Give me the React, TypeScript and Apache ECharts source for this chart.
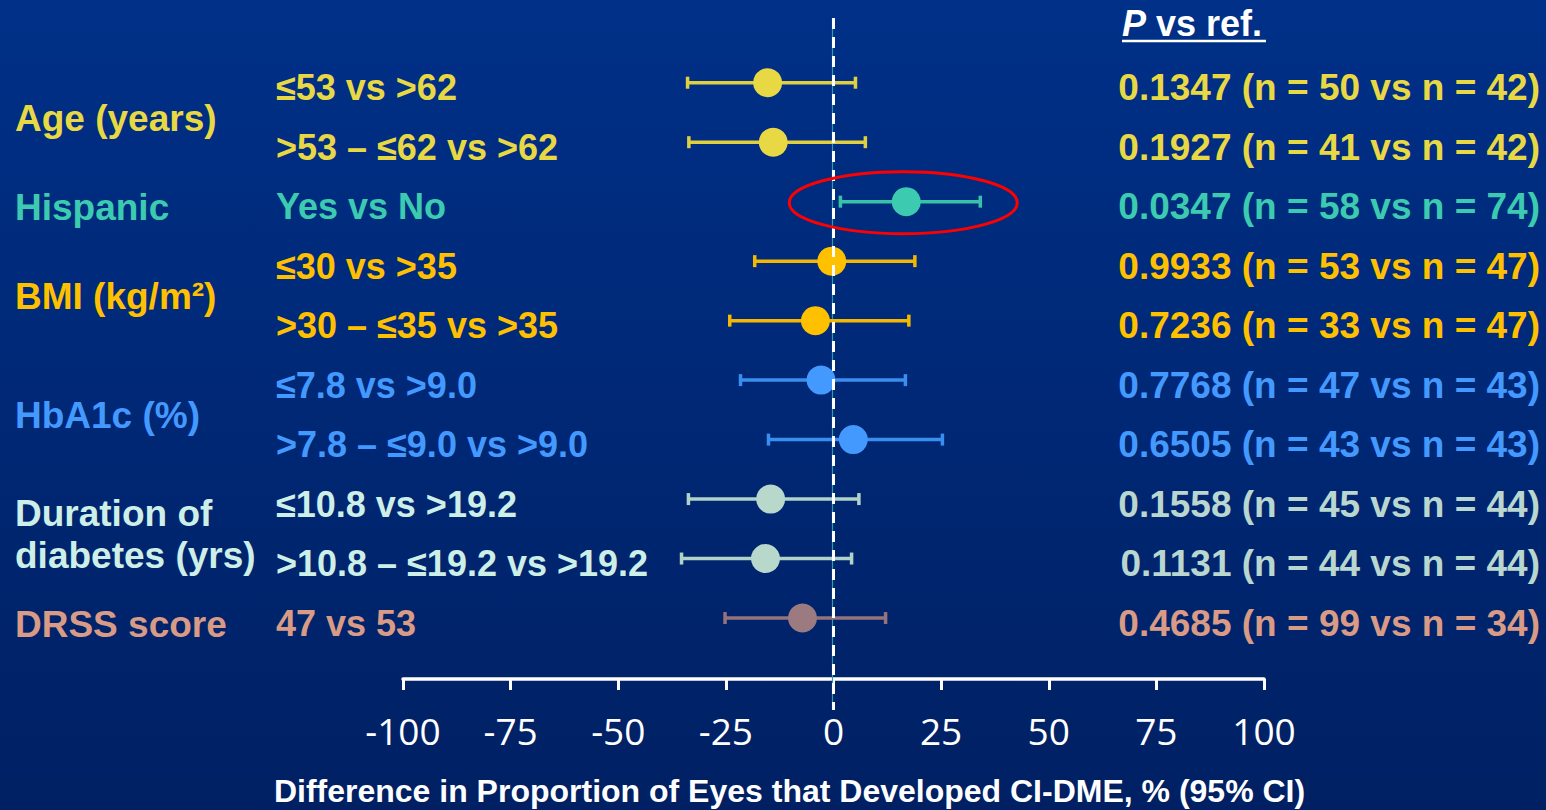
import React, { useEffect, useRef } from "react";
import * as echarts from "echarts";

// ---------- data ----------
const groupLabels = ["Age (years)", "Hispanic", "BMI (kg/m²)", "HbA1c (%)", "Duration of\ndiabetes (yrs)", "DRSS score"];
const groupRows = [[0, 1], [2], [3, 4], [5, 6], [7, 8], [9]];
const groupColors = ["#E8D944", "#3CCBB0", "#FFC000", "#4499FF", "#CDEFE8", "#D99A86"];

const subgroupLabels = [
  "≤53 vs >62",
  ">53 – ≤62 vs >62",
  "Yes vs No",
  "≤30 vs >35",
  ">30 – ≤35 vs >35",
  "≤7.8 vs >9.0",
  ">7.8 – ≤9.0 vs >9.0",
  "≤10.8 vs >19.2",
  ">10.8 – ≤19.2 vs >19.2",
  "47 vs 53",
];
const estimates = [-15.3, -14.0, 16.9, -0.4, -4.2, -2.9, 4.6, -14.6, -15.8, -7.2];
const ciLower = [-33.9, -33.6, 1.6, -18.3, -24.1, -21.6, -15.1, -33.7, -35.3, -25.2];
const ciUpper = [5.1, 7.4, 34.1, 18.9, 17.5, 16.7, 25.3, 5.9, 4.2, 12.1];
const pValues = ["0.1347", "0.1927", "0.0347", "0.9933", "0.7236", "0.7768", "0.6505", "0.1558", "0.1131", "0.4685"];
const nGroup = [50, 41, 58, 53, 33, 47, 43, 45, 44, 99];
const nRef = [42, 42, 74, 47, 47, 43, 43, 44, 44, 34];

const rowTextColors = ["#E8D944", "#E8D944", "#3CCBB0", "#FFC000", "#FFC000", "#4499FF", "#4499FF", "#CDEFE8", "#CDEFE8", "#D99A86"];
const pTextColors = ["#E8D944", "#E8D944", "#3CCBB0", "#FFC000", "#FFC000", "#4499FF", "#4499FF", "#B9D6CF", "#B9D6CF", "#D99A86"];
const markColors = ["#E8D944", "#E8D944", "#3CCBB0", "#FFC000", "#FFC000", "#4499FF", "#4499FF", "#B9D8CC", "#B9D8CC", "#9B7A80"];
const barColors = ["#E0D040", "#E0D040", "#38C2A8", "#F5B800", "#F5B800", "#3A8EF0", "#3A8EF0", "#B0D2C8", "#B0D2C8", "#94737A"];

const xTicks = [-100, -75, -50, -25, 0, 25, 50, 75, 100];
const xTitle = "Difference in Proportion of Eyes that Developed CI-DME, % (95% CI)";
const highlightRow = 2;

const FONT = "'Liberation Sans', Arial, sans-serif";

export default function App() {
  const ref = useRef<HTMLDivElement>(null);
  useEffect(() => {
    if (!ref.current) return;
    const chart = echarts.init(ref.current, null, { renderer: "svg" });
    const rowIdx = estimates.map((_, i) => i);
    const yMin = -1.088;
    const yMax = 10.025;

    chart.setOption({
      animation: false,
      backgroundColor: {
        type: "linear", x: 0, y: 0, x2: 0, y2: 1,
        colorStops: [
          { offset: 0, color: "#003088" },
          { offset: 1, color: "#002063" },
        ],
      },
      grid: { left: 403, right: 282, top: 18, bottom: 131, outerBoundsMode: "none", containLabel: false },
      xAxis: {
        type: "value",
        min: -100,
        max: 100,
        interval: 25,
        splitLine: { show: false },
        axisLine: { show: true, onZero: false, lineStyle: { color: "#FFFFFF", width: 3.5 } },
        axisTick: { show: true, length: 11, lineStyle: { color: "#FFFFFF", width: 3 } },
        axisLabel: {
          color: "#FFFFFF",
          fontFamily: "'Open Sans', sans-serif",
          fontSize: 37,
          margin: 33,
          formatter: (v: number) => (xTicks.includes(v) ? String(v) : ""),
        },
        name: xTitle,
        nameLocation: "middle",
        nameGap: 97,
        nameTextStyle: {
          color: "#FFFFFF", fontFamily: FONT, fontWeight: "bold", fontSize: 32,
          lineHeight: 30,
          padding: [0, 88, 0, 0],
        },
      },
      yAxis: {
        type: "value",
        min: yMin,
        max: yMax,
        inverse: true,
        show: false,
      },
      series: [
        {
          type: "custom",
          renderItem: (params: any, api: any) => {
            const i = params.dataIndex;
            const lo = api.coord([api.value(0), api.value(2)]);
            const hi = api.coord([api.value(1), api.value(2)]);
            const c = barColors[i];
            const cap = 6;
            return {
              type: "group",
              children: [
                { type: "line", shape: { x1: lo[0], y1: lo[1], x2: hi[0], y2: hi[1] }, style: { stroke: c, lineWidth: 3.5 } },
                { type: "line", shape: { x1: lo[0], y1: lo[1] - cap, x2: lo[0], y2: lo[1] + cap }, style: { stroke: c, lineWidth: 3.5 } },
                { type: "line", shape: { x1: hi[0], y1: hi[1] - cap, x2: hi[0], y2: hi[1] + cap }, style: { stroke: c, lineWidth: 3.5 } },
              ],
            };
          },
          encode: { x: [0, 1], y: 2 },
          data: rowIdx.map((i) => [ciLower[i], ciUpper[i], i]),
          z: 2,
        },
        {
          type: "scatter",
          symbol: "circle",
          symbolSize: 29,
          itemStyle: { opacity: 1 },
          data: rowIdx.map((i) => ({ value: [estimates[i], i], itemStyle: { color: markColors[i], opacity: 1 } })),
          z: 3,
        },
      ],
    });

    const px = (x: number, y: number) => chart.convertToPixel({ gridIndex: 0 }, [x, y]) as number[];
    const zeroTop = px(0, yMin);
    const axisBottom = px(0, yMax);
    const graphics: any[] = [];

    // reference line at 0
    graphics.push({
      type: "line", z: 1,
      shape: { x1: zeroTop[0] - 1, y1: zeroTop[1], x2: zeroTop[0] - 1, y2: axisBottom[1] + 31 },
      style: { stroke: "#2A9DB0", lineWidth: 1.2 },
    });
    graphics.push({
      type: "line", z: 5,
      shape: { x1: zeroTop[0], y1: zeroTop[1], x2: zeroTop[0], y2: axisBottom[1] + 31 },
      style: { stroke: "#FFFFFF", lineWidth: 3, lineDash: [11, 8] },
    });

    // group labels
    groupLabels.forEach((g, gi) => {
      const rs = groupRows[gi];
      const yMid = (px(0, rs[0])[1] + px(0, rs[rs.length - 1])[1]) / 2;
      graphics.push({
        type: "text", x: 15, y: yMid + 6,
        style: {
          text: g, fill: groupColors[gi], font: `bold 37px ${FONT}`,
          verticalAlign: "middle", align: "left", lineHeight: 42,
        },
      });
    });

    // subgroup labels & p values
    rowIdx.forEach((i) => {
      const y = px(0, i)[1];
      graphics.push({
        type: "text", x: 276, y: y + 5,
        style: { text: subgroupLabels[i], fill: rowTextColors[i], font: `bold 36px ${FONT}`, verticalAlign: "middle", align: "left" },
      });
      graphics.push({
        type: "text", x: 1540, y: y + 5,
        style: {
          text: `${pValues[i]} (n = ${nGroup[i]} vs n = ${nRef[i]})`,
          fill: pTextColors[i], font: `bold 37px ${FONT}`, verticalAlign: "middle", align: "right",
        },
      });
    });

    // header
    graphics.push({
      type: "text", x: 1122, y: 23,
      style: {
        text: "{p|P }{t|vs ref.}",
        verticalAlign: "middle", align: "left",
        rich: {
          p: { fill: "#FFFFFF", font: `italic bold 36px ${FONT}` },
          t: { fill: "#FFFFFF", font: `bold 36px ${FONT}` },
        },
      },
    });
    graphics.push({
      type: "line",
      shape: { x1: 1122, y1: 41, x2: 1266, y2: 41 },
      style: { stroke: "#FFFFFF", lineWidth: 2.5 },
    });

    // highlight ellipse
    const hc = px(estimates[highlightRow], highlightRow);
    graphics.push({
      type: "ellipse", z: 6,
      shape: { cx: hc[0] - 3, cy: hc[1] + 1, rx: 114, ry: 31 },
      style: { fill: "none", stroke: "#FF0000", lineWidth: 3 },
    });

    chart.setOption({ graphic: graphics });

    return () => chart.dispose();
  }, []);

  return (
    <div
      ref={ref}
      style={{ position: "fixed", left: 0, top: 0, width: 1546, height: 810 }}
    />
  );
}
